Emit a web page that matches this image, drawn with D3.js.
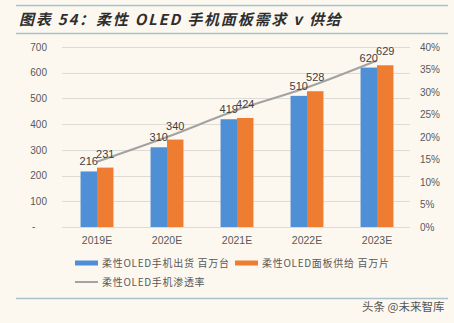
<!DOCTYPE html>
<html>
<head>
<meta charset="utf-8">
<script src="https://cdn.jsdelivr.net/npm/d3@7.9.0/dist/d3.min.js"></script>
<style>
  html, body { margin: 0; padding: 0; background: #fcf8f0; }
  svg { display: block; }
</style>
</head>
<body>
<svg id="chart" width="454" height="323"></svg>
<script>
const years    = ['2019E', '2020E', '2021E', '2022E', '2023E'];
const shipped  = [216, 310, 419, 510, 620];   // 柔性OLED手机出货 百万台
const supply   = [231, 340, 424, 528, 629];   // 柔性OLED面板供给 百万片
const penRate  = [0.145, 0.20, 0.26, 0.31, 0.37]; // 柔性OLED手机渗透率
const leftTicks  = [0, 100, 200, 300, 400, 500, 600, 700];
const rightTicks = [0, 0.05, 0.10, 0.15, 0.20, 0.25, 0.30, 0.35, 0.40];
const seriesNames = ['柔性OLED手机出货  百万台', '柔性OLED面板供给  百万片', '柔性OLED手机渗透率'];

const blue = '#4f8fd6', orange = '#ee7d31', gray = '#a3a3a3';
const numFont = '"Liberation Sans", Arial, sans-serif';
const cjkFont = '"Noto Sans CJK SC", sans-serif';

const svg = d3.select('#chart');

// title + frame lines
[5.5, 33.5, 298.5].forEach(ly => {
  svg.append('line').attr('x1', 16).attr('x2', 448).attr('y1', ly).attr('y2', ly)
    .attr('stroke', '#a9c2cc').attr('stroke-width', 1.5);
});

svg.append('text')
  .attr('x', 19).attr('y', 25)
  .attr('font-family', cjkFont).attr('font-size', 15).attr('font-weight', 'bold')
  .attr('font-style', 'italic').attr('letter-spacing', 1.8)
  .attr('fill', '#2e2e2e')
  .text('图表 54：柔性 OLED 手机面板需求 v 供给');

const x = d3.scaleBand().domain(years).range([62, 412]).paddingInner(0.53).paddingOuter(0.265);
const x1 = d3.scaleBand().domain([0, 1]).range([0, x.bandwidth()]);
const y = d3.scaleLinear().domain([0, 700]).range([227, 47]);
const yR = d3.scaleLinear().domain([0, 0.4]).range([227, 47]);

// gridlines
svg.append('g').selectAll('line').data(leftTicks).join('line')
  .attr('x1', 62).attr('x2', 410)
  .attr('y1', d => Math.round(y(d)) + 0.5).attr('y2', d => Math.round(y(d)) + 0.5)
  .attr('stroke', '#dedbd5').attr('stroke-width', 1);

// left axis
const yAxis = d3.axisLeft(y).tickValues(leftTicks).tickSize(0).tickPadding(0)
  .tickFormat(d => d === 0 ? '' : d);
const gL = svg.append('g').attr('transform', 'translate(47,0)').call(yAxis);
gL.select('.domain').remove();
gL.selectAll('text').attr('font-family', numFont).attr('font-size', 10).attr('fill', '#595959');
svg.append('text').attr('x', 32).attr('y', y(0) + 3).attr('font-family', numFont)
  .attr('font-size', 10).attr('fill', '#595959').text('-');

// right axis
const yAxisR = d3.axisRight(yR).tickValues(rightTicks).tickSize(0).tickPadding(0)
  .tickFormat(d3.format('.0%'));
const gR = svg.append('g').attr('transform', 'translate(420,0)').call(yAxisR);
gR.select('.domain').remove();
gR.selectAll('text').attr('font-family', numFont).attr('font-size', 10).attr('fill', '#595959');

// x axis
const xAxis = d3.axisBottom(x).tickSize(0).tickPadding(0);
const gX = svg.append('g').attr('transform', 'translate(0,237)').call(xAxis);
gX.select('.domain').remove();
gX.selectAll('text').attr('font-family', numFont).attr('font-size', 10.5).attr('fill', '#595959');

// bars
const series = [shipped, supply];
const colors = [blue, orange];
series.forEach((vals, si) => {
  svg.append('g').selectAll('rect').data(vals).join('rect')
    .attr('x', (d, i) => x(years[i]) + x1(si))
    .attr('y', d => y(d))
    .attr('width', x1.bandwidth())
    .attr('height', d => y(0) - y(d))
    .attr('fill', colors[si]);
});

// line
const line = d3.line()
  .x((d, i) => x(years[i]) + x.bandwidth() / 2)
  .y(d => yR(d))
  .curve(d3.curveMonotoneX);
svg.append('path').datum(penRate)
  .attr('d', line).attr('fill', 'none')
  .attr('stroke', gray).attr('stroke-width', 2.2);

// data labels
series.forEach((vals, si) => {
  svg.append('g').selectAll('text').data(vals).join('text')
    .attr('x', (d, i) => x(years[i]) + x1(si) + x1.bandwidth() / 2)
    .attr('y', d => y(d) - 6 - si * 4)
    .attr('text-anchor', 'middle')
    .attr('font-family', numFont).attr('font-size', 11).attr('fill', '#404040')
    .text(d => d);
});

// legend
const legend = svg.append('g').attr('font-family', cjkFont).attr('font-size', 10)
  .attr('fill', '#595959');
const legItems = [
  { name: seriesNames[0], color: blue, lx: 75, ly: 263, w: 5 },
  { name: seriesNames[1], color: orange, lx: 235, ly: 263, w: 5 },
  { name: seriesNames[2], color: gray, lx: 75, ly: 282, w: 2 }
];
legItems.forEach(it => {
  legend.append('line').attr('x1', it.lx).attr('x2', it.lx + 23)
    .attr('y1', it.ly).attr('y2', it.ly)
    .attr('stroke', it.color).attr('stroke-width', it.w);
  legend.append('text').attr('x', it.lx + 27).attr('y', it.ly + 3.5)
    .attr('letter-spacing', 0.7).text(it.name);
});

// watermark
svg.append('text').attr('x', 362).attr('y', 311)
  .attr('font-family', cjkFont).attr('font-size', 11.5).attr('fill', '#555')
  .text('头条 @未来智库');
</script>
</body>
</html>
